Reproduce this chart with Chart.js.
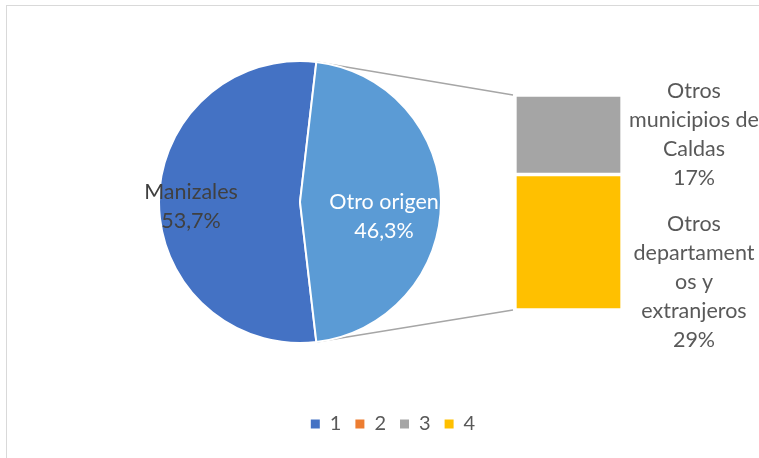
<!DOCTYPE html>
<html><head><meta charset="utf-8">
<script src="https://cdn.jsdelivr.net/npm/chart.js@4.4.1/dist/chart.umd.min.js"></script>
<style>
html,body{margin:0;padding:0;background:#fff;}
#wrap{position:relative;width:759px;height:458px;overflow:hidden;background:#fff;}
#frame{position:absolute;left:6px;top:5px;width:800px;height:500px;border-left:1px solid #d9d9d9;border-top:1px solid #d9d9d9;}
canvas{position:absolute;}
#barC{left:0;top:0;}
#pieC{left:100px;top:0px;}
#legC{left:243px;top:400px;}
</style></head><body>
<div id="wrap"><div id="frame"></div>
<canvas id="barC" width="759" height="458"></canvas>
<canvas id="pieC" width="400" height="404"></canvas>
<canvas id="legC" width="300" height="100"></canvas>
</div>
<script>
const pieLabels = ['Manizales', 'Otro origen'];
const pieValues = [53.7, 46.3];
const pieColors = ['#4472C4', '#5B9BD5'];
const barCategory = ['Otro origen'];
const barSeriesNames = ['Otros municipios de Caldas', 'Otros departamentos y extranjeros'];
const barLabelLines = [['Otros', 'municipios de', 'Caldas'], ['Otros', 'departament', 'os y', 'extranjeros']];
const barValues = [17, 29];
const barColors = ['#A5A5A5', '#FFC000'];
const legendLabels = ['1', '2', '3', '4'];
const legendColors = ['#4472C4', '#ED7D31', '#A5A5A5', '#FFC000'];

Chart.defaults.font.family = 'Lato';
const fmt = v => String(v).replace('.', ',');
const pieTotal = pieValues.reduce((a, b) => a + b, 0);
const otherAngle = pieValues[1] / pieTotal * 360;
const PIE_LEFT = 100, PIE_TOP = 0;

const pieLabelPlugin = {
  id: 'pieLabels',
  afterDatasetsDraw(chart, args, opts) {
    const ctx = chart.ctx;
    chart.getDatasetMeta(0).data.forEach((arc, i) => {
      const p = arc.getProps(['x', 'y', 'startAngle', 'endAngle', 'outerRadius'], true);
      const mid = (p.startAngle + p.endAngle) / 2;
      const r = p.outerRadius * opts.radial[i];
      const cx = p.x + Math.cos(mid) * r;
      const cy = p.y + Math.sin(mid) * r + opts.dy[i];
      const lines = [pieLabels[i], fmt(pieValues[i]) + '%'];
      ctx.save();
      ctx.font = '21.5px Lato';
      ctx.fillStyle = opts.colors[i];
      ctx.textAlign = 'center';
      ctx.textBaseline = 'middle';
      lines.forEach((t, k) => ctx.fillText(t, cx, cy + (k - (lines.length - 1) / 2) * opts.lineHeight));
      ctx.restore();
    });
  }
};

const pieChart = new Chart(document.getElementById('pieC'), {
  type: 'pie',
  data: {
    labels: pieLabels,
    datasets: [{ data: pieValues, backgroundColor: pieColors, borderColor: '#ffffff', borderWidth: 2, hoverOffset: 0 }]
  },
  options: {
    responsive: false, animation: false, events: [],
    rotation: 90 + otherAngle / 2,
    layout: { padding: { left: 58, right: 58, top: 60, bottom: 60 } },
    plugins: {
      legend: { display: false }, tooltip: { enabled: false },
      pieLabels: { radial: [0.773, 0.596], dy: [4.5, 14.5], lineHeight: 29, colors: ['#404040', '#ffffff'] }
    }
  },
  plugins: [pieLabelPlugin]
});

const barPlugin = {
  id: 'barExtras',
  beforeDatasetsDraw(chart, args, opts) {
    const ctx = chart.ctx;
    const arc = pieChart.getDatasetMeta(0).data[1];
    const p = arc.getProps(['x', 'y', 'startAngle', 'endAngle', 'outerRadius'], true);
    const el = chart.getDatasetMeta(0).data[0];
    const left = el.x - el.width / 2;
    const ys = chart.scales.y;
    const top = ys.getPixelForValue(ys.min), bottom = ys.getPixelForValue(ys.max);
    const sx = PIE_LEFT + p.x, sy = PIE_TOP + p.y;
    ctx.save();
    ctx.strokeStyle = '#A6A6A6';
    ctx.lineWidth = 1.5;
    ctx.beginPath();
    ctx.moveTo(sx + Math.cos(p.startAngle) * p.outerRadius, sy + Math.sin(p.startAngle) * p.outerRadius);
    ctx.lineTo(left - 2, top);
    ctx.moveTo(sx + Math.cos(p.endAngle) * p.outerRadius, sy + Math.sin(p.endAngle) * p.outerRadius);
    ctx.lineTo(left - 2, bottom);
    ctx.stroke();
    ctx.restore();
  },
  afterDatasetsDraw(chart, args, opts) {
    const ctx = chart.ctx;
    chart.data.datasets.forEach((ds, i) => {
      const el = chart.getDatasetMeta(i).data[0];
      const cx = el.x + el.width / 2 + opts.dx;
      const cy = (el.y + el.base) / 2 + opts.dy[i];
      const lines = barLabelLines[i].concat([fmt(barValues[i]) + '%']);
      ctx.save();
      ctx.font = '21.5px Lato';
      ctx.fillStyle = '#595959';
      ctx.textAlign = 'center';
      ctx.textBaseline = 'middle';
      lines.forEach((t, k) => ctx.fillText(t, cx, cy + (k - (lines.length - 1) / 2) * opts.lineHeight));
      ctx.restore();
    });
  }
};

new Chart(document.getElementById('barC'), {
  type: 'bar',
  data: {
    labels: barCategory,
    datasets: barSeriesNames.map((n, i) => ({
      label: n, data: [barValues[i]], backgroundColor: barColors[i],
      borderColor: '#ffffff', borderWidth: 2, borderSkipped: false,
      barPercentage: 1, categoryPercentage: 1
    }))
  },
  options: {
    responsive: false, animation: false, events: [],
    layout: { padding: { left: 515, right: 137, top: 95, bottom: 148 } },
    scales: {
      x: { display: false, stacked: true },
      y: { display: false, stacked: true, min: 0, max: barValues.reduce((a, b) => a + b, 0), reverse: true }
    },
    plugins: {
      legend: { display: false }, tooltip: { enabled: false },
      barExtras: { dx: 72, dy: [0, 40], lineHeight: 29 }
    }
  },
  plugins: [barPlugin]
});

new Chart(document.getElementById('legC'), {
  type: 'bar',
  data: {
    labels: [],
    datasets: legendLabels.map((l, i) => ({ label: l, data: [], backgroundColor: legendColors[i] }))
  },
  options: {
    responsive: false, animation: false, events: [],
    scales: { x: { display: false }, y: { display: false } },
    plugins: {
      tooltip: { enabled: false },
      legend: {
        position: 'top',
        labels: { boxWidth: 9, boxHeight: 9, padding: 14, color: '#595959', font: { family: 'Lato', size: 20 } }
      }
    }
  }
});
</script>
</body></html>
